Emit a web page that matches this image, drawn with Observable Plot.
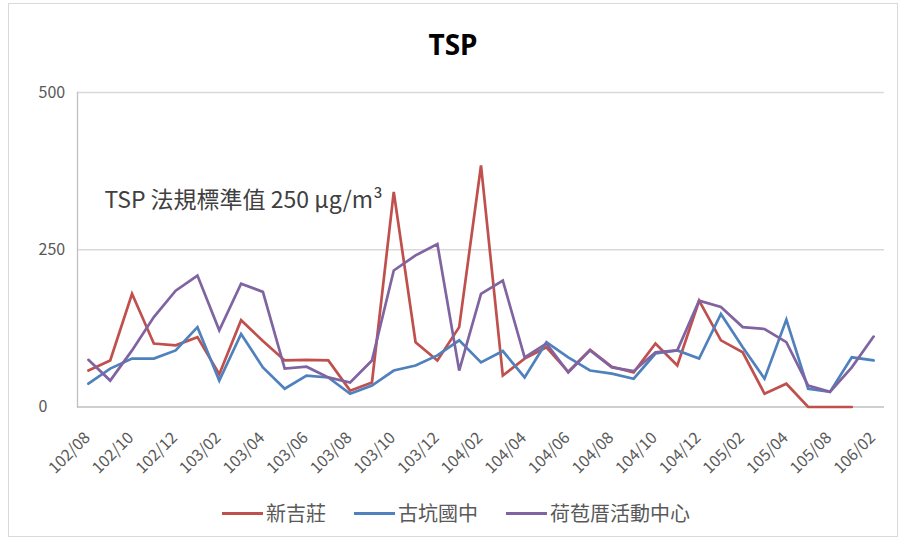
<!DOCTYPE html>
<html>
<head>
<meta charset="utf-8">
<script src="https://cdn.jsdelivr.net/npm/d3@7"></script>
<script src="https://cdn.jsdelivr.net/npm/@observablehq/plot@0.6"></script>
<style>
  body { margin: 0; background: #fff; font-family: "Noto Sans CJK TC", "Noto Sans", sans-serif; }
  #wrap { position: relative; width: 906px; height: 544px; overflow: hidden; background: #fff; }
  #border { position: absolute; left: 8px; top: 3px; width: 890px; height: 534px; border: 1px solid #d9d9d9; box-sizing: border-box; }
  #title { position: absolute; left: 0; top: 30px; width: 906px; text-align: center; font-weight: bold; font-size: 28px; line-height: 1; color: #000; font-family: "Noto Sans", sans-serif; }
  #chart { position: absolute; left: 0; top: 0; }
  #legend { position: absolute; left: 222px; top: 503px; display: flex; align-items: center; gap: 28px; font-size: 20px; line-height: 1; color: #595959; }
  .item { display: flex; align-items: center; gap: 3px; }
  .swatch { display: inline-block; width: 41px; height: 3px; }
</style>
</head>
<body>
<div id="wrap">
  <div id="border"></div>
  <div id="chart"></div>
  <div id="title"></div>
  <div id="legend"></div>
</div>
<script>
const titleText = "TSP";
const categories = [
  "102/08","102/09","102/10","102/11","102/12",
  "103/01","103/02","103/03","103/04","103/05","103/06","103/07","103/08","103/09","103/10","103/11","103/12",
  "104/01","104/02","104/03","104/04","104/05","104/06","104/07","104/08","104/09","104/10","104/11","104/12",
  "105/01","105/02","105/03","105/04","105/06","105/08","105/11","106/02"
];
const tickLabels = categories.filter((d, i) => i % 2 === 0);
const seriesNames = ["新吉莊", "古坑國中", "荷苞厝活動中心"];
const seriesColors = ["#c0504d", "#4f81bd", "#8064a2"];
const xinjizhuang = [58,74,180,101,98,111,52,138,105,74,75,74,26,39,342,103,74,127,384,50,77,95,56,91,64,55,101,66,169,106,87,21,37,0,0,0,null];
const gukeng = [37,61,77,77,90,127,42,116,63,29,50,47,21,34,58,66,82,106,71,89,47,103,79,58,53,45,85,90,77,148,95,45,139,29,24,79,74];
const hebaocuo = [75,42,90,143,185,209,122,196,183,61,64,47,39,74,217,241,259,58,180,201,79,101,55,90,63,57,87,90,169,159,127,124,103,34,24,63,112];
const yTicks = [0, 250, 500];
const annotation = [{label: "TSP 法規標準值 250 μg/m³", cat: "102/08", value: 328}];

const seriesValues = [xinjizhuang, gukeng, hebaocuo];
const rows = [];
seriesNames.forEach((name, s) => {
  categories.forEach((c, i) => rows.push({series: name, cat: c, value: seriesValues[s][i]}));
});

document.getElementById("title").textContent = titleText;

const chart = Plot.plot({
  width: 906,
  height: 544,
  marginLeft: 77,
  marginRight: 22,
  marginTop: 92,
  marginBottom: 137.5,
  style: {fontFamily: '"Noto Sans CJK TC", "Noto Sans", sans-serif', background: "transparent", color: "#595959"},
  x: {type: "point", domain: categories, padding: 0.5, round: false},
  y: {domain: [0, 500]},
  color: {domain: seriesNames, range: seriesColors},
  marks: [
    Plot.ruleY([250, 500], {stroke: "#d9d9d9", strokeWidth: 1.3}),
    Plot.ruleY([0], {stroke: "#bfbfbf", strokeWidth: 1.3}),
    Plot.frame({anchor: "left", stroke: "#bfbfbf", strokeWidth: 1.3}),
    Plot.line(rows, {x: "cat", y: "value", z: "series", stroke: "series", strokeWidth: 2.7, strokeLinejoin: "miter", strokeMiterlimit: 4}),
    Plot.axisX({ticks: tickLabels, tickSize: 0, tickPadding: 16, tickRotate: -45, dy: 12, dx: -1, fontSize: 16, label: null, fill: "#595959"}),
    Plot.axisY({ticks: yTicks, tickSize: 0, tickPadding: 0, textAnchor: "start", dx: -39, fontSize: 16, label: null, fill: "#595959"}),
    Plot.text(annotation, {x: "cat", y: "value", text: "label", textAnchor: "start", dx: 16, fontSize: 23, fill: "#404040"})
  ]
});
document.getElementById("chart").appendChild(chart);

const legend = document.getElementById("legend");
seriesNames.forEach((name, i) => {
  const item = document.createElement("div");
  item.className = "item";
  const sw = document.createElement("span");
  sw.className = "swatch";
  sw.style.background = seriesColors[i];
  const t = document.createElement("span");
  t.textContent = name;
  item.appendChild(sw);
  item.appendChild(t);
  legend.appendChild(item);
});
</script>
</body>
</html>
